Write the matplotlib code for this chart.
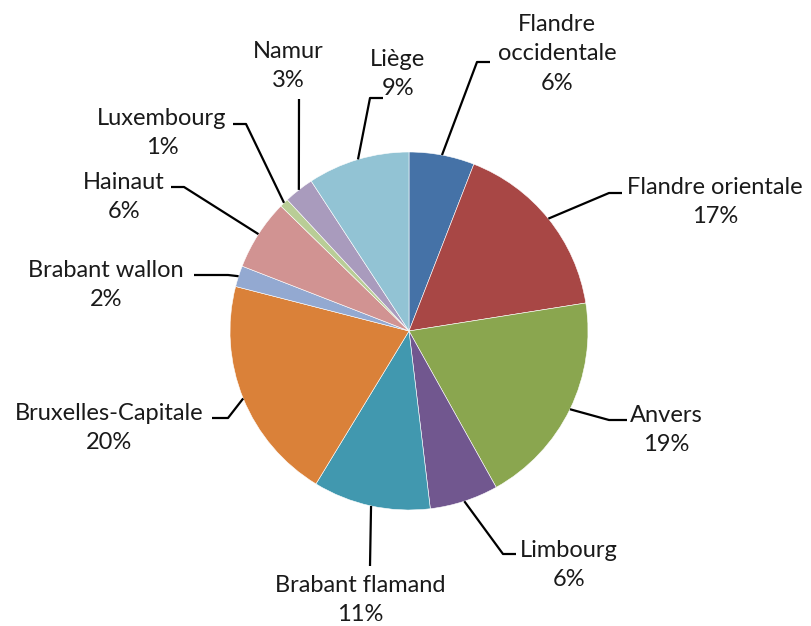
import matplotlib
matplotlib.use("Agg")
import matplotlib.pyplot as plt
import numpy as np

regions = ["Flandre\noccidentale", "Flandre orientale", "Anvers", "Limbourg",
           "Brabant flamand", "Bruxelles-Capitale", "Brabant wallon", "Hainaut",
           "Luxembourg", "Namur", "Liège"]
shares = [5.9, 16.6, 19.4, 6.2, 10.6, 20.3, 1.9, 6.4, 0.8, 2.7, 9.2]
colors = ["#4572A7", "#A84745", "#8AA64F", "#71578F", "#4198AF", "#DA8139",
          "#93A9D1", "#D19392", "#B9CD96", "#A99BBD", "#92C3D4"]

W, H = 811, 626
fig = plt.figure(figsize=(W / 100, H / 100), dpi=100)
ax = fig.add_axes([0, 0, 1, 1])

cx, cy, R = 409, H - 331, 179
ax.pie(shares, colors=colors, startangle=90, counterclock=False,
       center=(cx, cy), radius=R, frame=True,
       wedgeprops=dict(edgecolor="white", linewidth=0.4))
ax.set_xlim(0, W)
ax.set_ylim(0, H)
ax.set_aspect("equal")
ax.axis("off")

def P(x, y):
    return (x, H - y)

# layout: label center (px), leader path points after the start (px)
layout = [
    ((557, 54), [(477, 62), (490, 62)]),
    ((715, 202), [(609, 193), (622, 193)]),
    ((666, 430), [(609, 420), (627, 420)]),
    ((569, 565), [(503, 554), (516, 554)]),
    ((360, 600), [(370, 566)]),
    ((109, 428), [(228, 418), (212, 418)]),
    ((106, 285), [(228, 275), (194, 275)]),
    ((124, 197), [(184, 187), (171, 187)]),
    ((162, 133), [(246, 124), (233, 124)]),
    ((288, 66), [(299, 99)]),
    ((398, 74), [(370, 98), (383, 98)]),
]

total = sum(shares)
cum = 0
for name, val, (lab, path) in zip(regions, shares, layout):
    mid = cum + val / 2
    cum += val
    ang = np.deg2rad(90 - 360 * mid / total)
    sx, sy = cx + R * np.cos(ang), cy + R * np.sin(ang)
    xs = [sx] + [p[0] for p in path]
    ys = [sy] + [H - p[1] for p in path]
    ax.plot(xs, ys, color="black", lw=1.6, solid_capstyle="butt", zorder=3)
    ax.text(*P(*lab), f"{name}\n{val / total * 100:.0f}%", ha="center", va="center",
            fontsize=17, family=["Lato", "DejaVu Sans"], color="#1a1a1a",
            linespacing=1.5)

fig.savefig("out.png", dpi=100)
